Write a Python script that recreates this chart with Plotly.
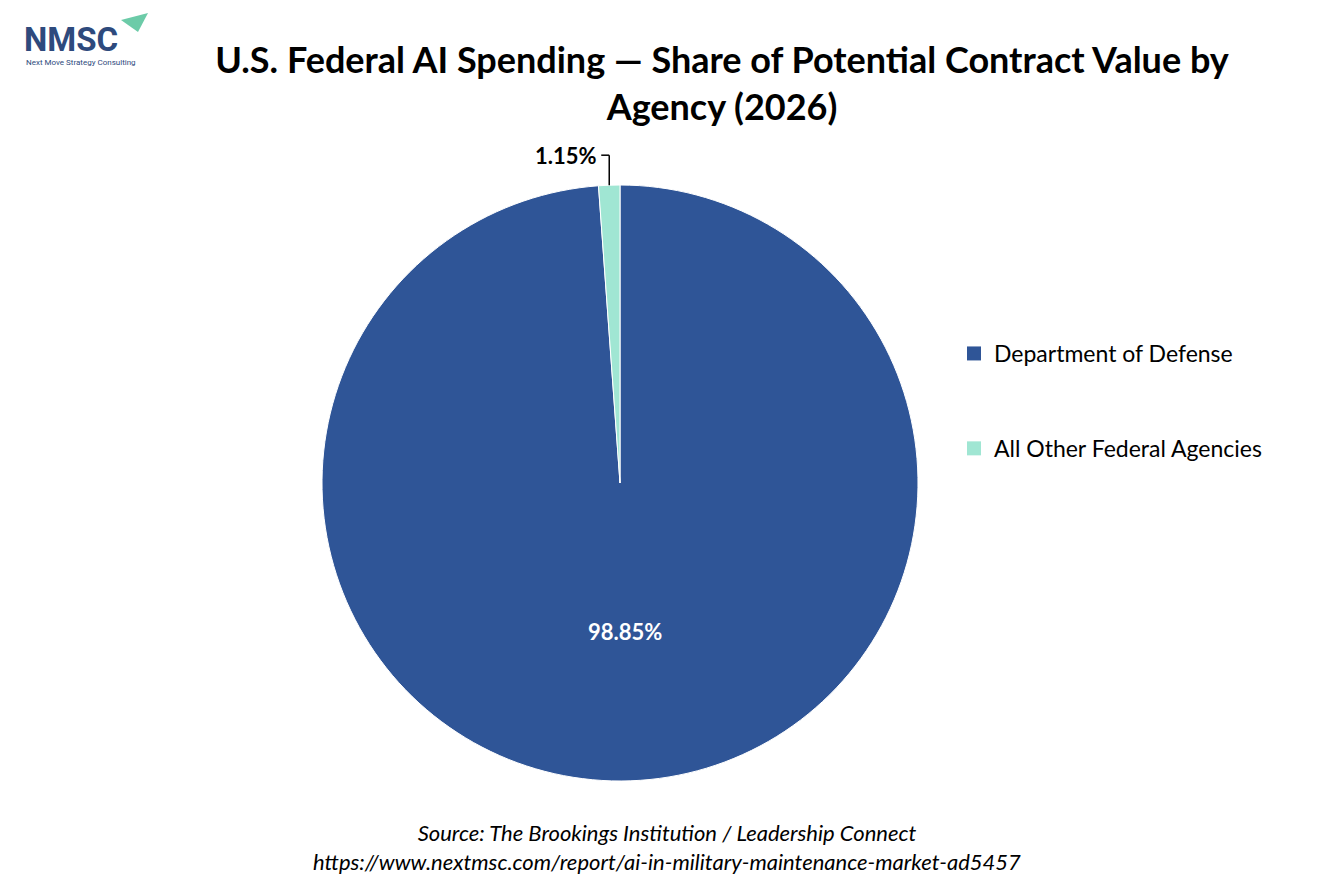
import math
import plotly.graph_objects as go

# Chart data
agencies = ["Department of Defense", "All Other Federal Agencies"]
shares = [98.85, 1.15]
colors = ["#2F5597", "#A0E6D3"]

W, H = 1334, 889
dom_x = [322 / W, 918 / W]
dom_y = [1 - 781 / H, 1 - 185 / H]

fig = go.Figure()

fig.add_trace(go.Pie(
    labels=agencies,
    values=shares,
    sort=False,
    direction="clockwise",
    rotation=0,
    marker=dict(colors=colors, line=dict(color="white", width=1)),
    textinfo="none",
    hoverinfo="label+percent",
    showlegend=False,
    domain=dict(x=dom_x, y=dom_y),
))

# Legend entries (separate traces so the items can be spaced apart)
for name, col in zip(agencies, colors):
    fig.add_trace(go.Scatter(
        x=[None], y=[None], mode="markers", name=name,
        legendgroup=name,
        marker=dict(symbol="square", size=14, color=col),
    ))

# Slice labels placed from the slice angles
cx = (dom_x[0] + dom_x[1]) / 2
cy = (dom_y[0] + dom_y[1]) / 2
r_px = (918 - 322) / 2
total = sum(shares)
start = 0.0
for i, v in enumerate(shares):
    mid = (start + v / 2) / total * 2 * math.pi
    start += v
    dx, dy = math.sin(mid), math.cos(mid)
    if i == 0:
        fig.add_annotation(
            x=cx + 0.5 * r_px * dx / W, y=cy + 0.5 * r_px * dy / H,
            xref="paper", yref="paper", showarrow=False,
            xanchor="center", yanchor="middle",
            text=f"<b>{v:.2f}%</b>",
            font=dict(family="Lato", size=22, color="white"),
        )
    else:
        ex = cx + r_px * dx / W
        ey = cy + r_px * dy / H
        ty = ey + 30 / H
        fig.add_shape(type="line", xref="paper", yref="paper",
                      x0=ex, y0=ey, x1=ex, y1=ty,
                      line=dict(color="black", width=1.5))
        fig.add_shape(type="line", xref="paper", yref="paper",
                      x0=ex, y0=ty, x1=ex - 8 / W, y1=ty,
                      line=dict(color="black", width=1.5))
        fig.add_annotation(
            x=ex - 10 / W, y=ty, xref="paper", yref="paper",
            xanchor="right", yanchor="middle", showarrow=False,
            text=f"<b>{v:.2f}%</b>",
            font=dict(family="Lato", size=22, color="black"),
        )

# Logo
fig.add_annotation(x=22 / W, y=1 - 40 / H, xref="paper", yref="paper",
                   xanchor="left", yanchor="middle", showarrow=False,
                   text="<b>NMSC</b>",
                   font=dict(family="Roboto", size=33, color="#2E4A7D"))
fig.add_annotation(x=24 / W, y=1 - 63 / H, xref="paper", yref="paper",
                   xanchor="left", yanchor="middle", showarrow=False,
                   text="Next Move Strategy Consulting",
                   font=dict(family="Roboto", size=8, color="#2E4A7D"))
fig.add_shape(type="path", xref="paper", yref="paper",
              path=f"M {121/W},{1-20/H} L {148/W},{1-13/H} L {138/W},{1-32/H} Z",
              fillcolor="#6CCBA8", line=dict(width=0))

# Source
fig.add_annotation(x=667 / W, y=1 - 847 / H, xref="paper", yref="paper",
                   xanchor="center", yanchor="middle", showarrow=False,
                   text="<i>Source: The Brookings Institution / Leadership Connect</i><br>"
                        "<i>https://www.nextmsc.com/report/ai-in-military-maintenance-market-ad5457</i>",
                   font=dict(family="Lato", size=22, color="black"))

fig.update_layout(
    width=W, height=H,
    paper_bgcolor="white", plot_bgcolor="white",
    margin=dict(l=0, r=0, t=0, b=0),
    title=dict(
        text="<b>U.S. Federal AI Spending — Share of Potential Contract Value by<br>Agency (2026)</b>",
        x=722 / W, xanchor="center", y=1 - 73 / H, yanchor="middle",
        font=dict(family="Lato", size=36, color="black"),
    ),
    xaxis=dict(visible=False), yaxis=dict(visible=False),
    legend=dict(x=954 / W, y=1 - 332 / H, xanchor="left", yanchor="top",
                font=dict(family="Lato", size=23, color="black"),
                tracegroupgap=62, itemclick=False),
)

fig.write_html("out.html", config={"displayModeBar": False},
               post_script="document.body.style.margin='0';")
